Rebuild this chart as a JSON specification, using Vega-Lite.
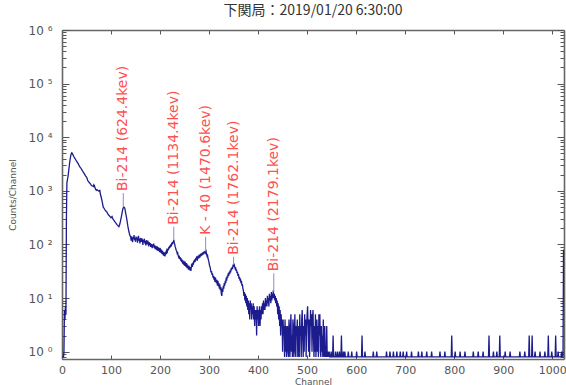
{
  "$schema": "https://vega.github.io/schema/vega-lite/v6.json",
  "width": 502,
  "height": 329,
  "autosize": "none",
  "padding": {"left": 62, "top": 30, "right": 2, "bottom": 26},
  "background": "white",
  "title": {"text": "下関局：2019/01/20 6:30:00", "font": "Noto Sans CJK JP", "fontSize": 14, "fontWeight": "normal", "color": "#333", "anchor": "middle", "offset": 6},
  "config": {
    "view": {"stroke": null},
    "axis": {"labelFont": "DejaVu Sans", "labelColor": "#555", "labelFontSize": 11, "domainColor": "#666", "domainWidth": 1.6, "tickColor": "#555", "tickWidth": 1, "grid": false, "titleFont": "DejaVu Sans", "titleFontSize": 9, "titleFontWeight": "normal", "titleColor": "#555"}
  },
  "datasets": {
    "spec": [
      {"ch":0,"c":0.8},{"ch":1,"c":0.8},{"ch":2,"c":0.8},{"ch":3,"c":0.8},{"ch":4,"c":1},{"ch":5,"c":6},{"ch":6,"c":4},{"ch":7,"c":7},{"ch":8,"c":5},{"ch":9,"c":300},
      {"ch":10,"c":1413},{"ch":11,"c":1600},{"ch":12,"c":1778},{"ch":13,"c":2100},{"ch":14,"c":2512},{"ch":15,"c":3000},{"ch":16,"c":3548},{"ch":17,"c":4100},{"ch":18,"c":4571},{"ch":19,"c":4950},
      {"ch":20,"c":5129},{"ch":21,"c":5000},{"ch":22,"c":4786},{"ch":24,"c":4365},{"ch":26,"c":4074},{"ch":28,"c":3802},{"ch":30,"c":3548},{"ch":32,"c":3311},{"ch":34,"c":3090},{"ch":36,"c":2818},
      {"ch":38,"c":2692},{"ch":40,"c":2512},{"ch":42,"c":2344},{"ch":44,"c":2188},{"ch":46,"c":2042},{"ch":48,"c":1905},{"ch":50,"c":1800},{"ch":51,"c":1740},{"ch":52,"c":1585},{"ch":54,"c":1479},
      {"ch":56,"c":1413},{"ch":58,"c":1349},{"ch":60,"c":1259},{"ch":62,"c":1230},{"ch":64,"c":1202},{"ch":65,"c":1300},{"ch":66,"c":1259},{"ch":68,"c":1096},{"ch":70,"c":1023},{"ch":72,"c":1047},
      {"ch":74,"c":1000},{"ch":76,"c":977},{"ch":77,"c":1040},{"ch":78,"c":891},{"ch":80,"c":759},{"ch":82,"c":631},{"ch":84,"c":501},{"ch":86,"c":468},{"ch":88,"c":437},{"ch":90,"c":417},
      {"ch":92,"c":398},{"ch":94,"c":363},{"ch":96,"c":347},{"ch":98,"c":331},{"ch":100,"c":316},{"ch":102,"c":331},{"ch":104,"c":295},{"ch":106,"c":282},{"ch":108,"c":263},{"ch":110,"c":251},
      {"ch":112,"c":234},{"ch":114,"c":224},{"ch":116,"c":214},{"ch":118,"c":240},{"ch":120,"c":295},{"ch":122,"c":363},{"ch":124,"c":457},{"ch":126,"c":501},{"ch":128,"c":479},{"ch":130,"c":380},
      {"ch":132,"c":302},{"ch":134,"c":229},{"ch":136,"c":182},{"ch":138,"c":151},
      {"ch":140,"c":138},{"ch":141,"c":118},{"ch":142,"c":142},{"ch":143,"c":125},{"ch":144,"c":110},{"ch":145,"c":136},{"ch":146,"c":128},{"ch":147,"c":150},{"ch":148,"c":120},{"ch":149,"c":131},
      {"ch":150,"c":112},{"ch":151,"c":140},{"ch":152,"c":124},{"ch":153,"c":135},{"ch":154,"c":108},{"ch":155,"c":128},{"ch":156,"c":145},{"ch":157,"c":118},{"ch":158,"c":126},{"ch":159,"c":104},
      {"ch":160,"c":132},{"ch":161,"c":120},{"ch":162,"c":112},{"ch":163,"c":130},{"ch":164,"c":118},{"ch":165,"c":98},{"ch":166,"c":122},{"ch":167,"c":110},{"ch":168,"c":128},{"ch":169,"c":104},
      {"ch":170,"c":115},{"ch":171,"c":96},{"ch":172,"c":120},{"ch":173,"c":108},{"ch":174,"c":100},{"ch":175,"c":118},{"ch":176,"c":104},{"ch":177,"c":92},{"ch":178,"c":110},{"ch":179,"c":98},
      {"ch":180,"c":106},{"ch":181,"c":90},{"ch":182,"c":102},{"ch":183,"c":95},{"ch":184,"c":85},{"ch":185,"c":100},{"ch":186,"c":92},{"ch":187,"c":104},{"ch":188,"c":86},{"ch":189,"c":96},
      {"ch":190,"c":82},{"ch":191,"c":94},{"ch":192,"c":88},{"ch":193,"c":78},{"ch":194,"c":92},{"ch":195,"c":84},{"ch":196,"c":76},{"ch":197,"c":88},{"ch":198,"c":80},{"ch":199,"c":72},
      {"ch":200,"c":86},{"ch":201,"c":78},{"ch":202,"c":70},{"ch":203,"c":80},{"ch":204,"c":66},{"ch":205,"c":76},{"ch":206,"c":70},{"ch":207,"c":62},{"ch":208,"c":72},{"ch":209,"c":64},
      {"ch":210,"c":60},{"ch":211,"c":68},{"ch":212,"c":72},{"ch":213,"c":66},{"ch":214,"c":78},{"ch":215,"c":74},{"ch":216,"c":84},{"ch":217,"c":78},{"ch":218,"c":90},{"ch":219,"c":84},
      {"ch":220,"c":95},{"ch":221,"c":88},{"ch":222,"c":100},{"ch":223,"c":92},{"ch":224,"c":108},{"ch":225,"c":100},{"ch":226,"c":112},{"ch":227,"c":105},{"ch":228,"c":122},{"ch":229,"c":108},
      {"ch":230,"c":100},{"ch":231,"c":90},{"ch":232,"c":84},{"ch":233,"c":78},{"ch":234,"c":74},{"ch":235,"c":68},{"ch":236,"c":70},{"ch":237,"c":62},{"ch":238,"c":58},{"ch":239,"c":62},
      {"ch":240,"c":54},{"ch":241,"c":58},{"ch":242,"c":50},{"ch":243,"c":55},{"ch":244,"c":47},{"ch":245,"c":52},{"ch":246,"c":44},{"ch":247,"c":50},{"ch":248,"c":42},{"ch":249,"c":48},
      {"ch":250,"c":40},{"ch":251,"c":46},{"ch":252,"c":44},{"ch":253,"c":38},{"ch":254,"c":45},{"ch":255,"c":36},{"ch":256,"c":42},{"ch":257,"c":38},{"ch":258,"c":34},{"ch":259,"c":40},
      {"ch":260,"c":36},{"ch":261,"c":33},{"ch":262,"c":38},{"ch":263,"c":32},{"ch":264,"c":40},{"ch":265,"c":44},{"ch":266,"c":38},{"ch":267,"c":46},{"ch":268,"c":42},{"ch":269,"c":50},
      {"ch":270,"c":46},{"ch":271,"c":53},{"ch":272,"c":48},{"ch":273,"c":56},{"ch":274,"c":52},{"ch":275,"c":60},{"ch":276,"c":50},{"ch":277,"c":58},{"ch":278,"c":62},{"ch":279,"c":55},
      {"ch":280,"c":64},{"ch":281,"c":57},{"ch":282,"c":66},{"ch":283,"c":60},{"ch":284,"c":68},{"ch":285,"c":62},{"ch":286,"c":70},{"ch":287,"c":64},{"ch":288,"c":72},{"ch":289,"c":66},
      {"ch":290,"c":74},{"ch":291,"c":68},{"ch":292,"c":76},{"ch":293,"c":70},{"ch":294,"c":74},{"ch":295,"c":66},{"ch":296,"c":60},{"ch":297,"c":62},{"ch":298,"c":54},{"ch":299,"c":50},
      {"ch":300,"c":46},{"ch":301,"c":40},{"ch":302,"c":38},{"ch":303,"c":34},{"ch":304,"c":30},{"ch":305,"c":32},{"ch":306,"c":27},{"ch":307,"c":29},{"ch":308,"c":24},{"ch":309,"c":26},
      {"ch":310,"c":22},{"ch":311,"c":25},{"ch":312,"c":20},{"ch":313,"c":24},{"ch":314,"c":21},{"ch":315,"c":19},{"ch":316,"c":22},{"ch":317,"c":17},{"ch":318,"c":21},{"ch":319,"c":18},
      {"ch":320,"c":19},{"ch":321,"c":15},{"ch":322,"c":18},{"ch":323,"c":14},{"ch":324,"c":16},{"ch":325,"c":12},{"ch":326,"c":11},{"ch":327,"c":15},{"ch":328,"c":13},{"ch":329,"c":17},
      {"ch":330,"c":15},{"ch":331,"c":19},{"ch":332,"c":17},{"ch":333,"c":21},{"ch":334,"c":19},{"ch":335,"c":24},{"ch":336,"c":21},{"ch":337,"c":26},{"ch":338,"c":24},{"ch":339,"c":29},
      {"ch":340,"c":26},{"ch":341,"c":31},{"ch":342,"c":28},{"ch":343,"c":33},{"ch":344,"c":30},{"ch":345,"c":36},{"ch":346,"c":33},{"ch":347,"c":38},{"ch":348,"c":35},{"ch":349,"c":42},
      {"ch":350,"c":38},{"ch":351,"c":44},{"ch":352,"c":39},{"ch":353,"c":36},{"ch":354,"c":38},{"ch":355,"c":32},{"ch":356,"c":34},{"ch":357,"c":29},{"ch":358,"c":31},{"ch":359,"c":26},
      {"ch":360,"c":28},{"ch":361,"c":23},{"ch":362,"c":25},{"ch":363,"c":21},{"ch":364,"c":23},{"ch":365,"c":19},{"ch":366,"c":21},{"ch":367,"c":17},{"ch":368,"c":18},{"ch":369,"c":15},
      {"ch":370,"c":14},{"ch":371,"c":11},{"ch":372,"c":13},{"ch":373,"c":9},{"ch":374,"c":12},{"ch":375,"c":8},{"ch":376,"c":11},{"ch":377,"c":7},{"ch":378,"c":10},{"ch":379,"c":6},
      {"ch":380,"c":9},{"ch":381,"c":5},{"ch":382,"c":8},{"ch":383,"c":4},{"ch":384,"c":9},{"ch":385,"c":6},{"ch":386,"c":8},{"ch":387,"c":4},{"ch":388,"c":7},{"ch":389,"c":5},
      {"ch":390,"c":8},{"ch":391,"c":4},{"ch":392,"c":7},{"ch":393,"c":3},{"ch":394,"c":6},{"ch":395,"c":4},{"ch":396,"c":6},{"ch":397,"c":2},{"ch":398,"c":7},{"ch":399,"c":4},
      {"ch":400,"c":6},{"ch":401,"c":3},{"ch":402,"c":5},{"ch":403,"c":7},{"ch":404,"c":3},{"ch":405,"c":6},{"ch":406,"c":4},{"ch":407,"c":7},{"ch":408,"c":5},{"ch":409,"c":8},
      {"ch":410,"c":5},{"ch":411,"c":9},{"ch":412,"c":6},{"ch":413,"c":8},{"ch":414,"c":6},{"ch":415,"c":10},{"ch":416,"c":7},{"ch":417,"c":9},{"ch":418,"c":7},{"ch":419,"c":11},
      {"ch":420,"c":8},{"ch":421,"c":10},{"ch":422,"c":7},{"ch":423,"c":12},{"ch":424,"c":9},{"ch":425,"c":11},{"ch":426,"c":8},{"ch":427,"c":13},{"ch":428,"c":9},{"ch":429,"c":12},
      {"ch":430,"c":10},{"ch":431,"c":14},{"ch":432,"c":10},{"ch":433,"c":12},{"ch":434,"c":9},{"ch":435,"c":11},{"ch":436,"c":8},{"ch":437,"c":10},{"ch":438,"c":7},{"ch":439,"c":9},
      {"ch":440,"c":5},{"ch":441,"c":8},{"ch":442,"c":4},{"ch":443,"c":7},{"ch":444,"c":3},{"ch":445,"c":6},{"ch":446,"c":2},{"ch":447,"c":5},{"ch":448,"c":3},{"ch":449,"c":4},
      {"ch":450,"c":1},{"ch":451,"c":4},{"ch":452,"c":2},{"ch":453,"c":3},{"ch":454,"c":0.8},{"ch":455,"c":4},{"ch":456,"c":1},{"ch":457,"c":3},{"ch":458,"c":0.8},{"ch":459,"c":2},
      {"ch":460,"c":3},{"ch":461,"c":1},{"ch":462,"c":0.8},{"ch":463,"c":4},{"ch":464,"c":2},{"ch":465,"c":0.8},{"ch":466,"c":3},{"ch":467,"c":5},{"ch":468,"c":1},{"ch":469,"c":2},
      {"ch":470,"c":0.8},{"ch":471,"c":4},{"ch":472,"c":3},{"ch":473,"c":0.8},{"ch":474,"c":2},{"ch":475,"c":5},{"ch":476,"c":1},{"ch":477,"c":0.8},{"ch":478,"c":3},{"ch":479,"c":2},
      {"ch":480,"c":4},{"ch":481,"c":0.8},{"ch":482,"c":1},{"ch":483,"c":3},{"ch":484,"c":0.8},{"ch":485,"c":5},{"ch":486,"c":2},{"ch":487,"c":3},{"ch":488,"c":0.8},{"ch":489,"c":4},
      {"ch":490,"c":6},{"ch":491,"c":2},{"ch":492,"c":0.8},{"ch":493,"c":3},{"ch":494,"c":1},{"ch":495,"c":5},{"ch":496,"c":2},{"ch":497,"c":4},{"ch":498,"c":0.8},{"ch":499,"c":3},
      {"ch":500,"c":5},{"ch":501,"c":7},{"ch":502,"c":3},{"ch":503,"c":1},{"ch":504,"c":4},{"ch":505,"c":0.8},{"ch":506,"c":2},{"ch":507,"c":6},{"ch":508,"c":3},{"ch":509,"c":5},
      {"ch":510,"c":1},{"ch":511,"c":4},{"ch":512,"c":6},{"ch":513,"c":2},{"ch":514,"c":0.8},{"ch":515,"c":3},{"ch":516,"c":1},{"ch":517,"c":5},{"ch":518,"c":0.8},{"ch":519,"c":2},
      {"ch":520,"c":4},{"ch":521,"c":1},{"ch":522,"c":3},{"ch":523,"c":0.8},{"ch":524,"c":5},{"ch":525,"c":2},{"ch":526,"c":5},{"ch":527,"c":1},{"ch":528,"c":0.8},{"ch":529,"c":3},
      {"ch":530,"c":1},{"ch":531,"c":2},{"ch":532,"c":0.8},{"ch":533,"c":4},{"ch":534,"c":1},{"ch":535,"c":0.8},{"ch":536,"c":3},{"ch":537,"c":0.8},{"ch":538,"c":1},{"ch":539,"c":0.8},
      {"ch":540,"c":3},{"ch":541,"c":0.8},{"ch":542,"c":1},{"ch":543,"c":0.8},{"ch":545,"c":1},{"ch":546,"c":0.8},
      {"ch":548,"c":0.8},{"ch":549,"c":1},{"ch":550,"c":0.8},{"ch":552,"c":0.8},{"ch":553,"c":2},{"ch":554,"c":0.8},{"ch":557,"c":0.8},{"ch":558,"c":1},{"ch":559,"c":0.8},
      {"ch":561,"c":0.8},{"ch":562,"c":1},{"ch":563,"c":0.8},{"ch":565,"c":0.8},{"ch":566,"c":1},{"ch":567,"c":0.8},{"ch":569,"c":0.8},{"ch":570,"c":2},{"ch":571,"c":0.8},
      {"ch":573,"c":0.8},{"ch":574,"c":1},{"ch":575,"c":0.8},{"ch":576,"c":0.8},{"ch":577,"c":1},{"ch":578,"c":0.8},{"ch":583,"c":0.8},{"ch":584,"c":1},{"ch":585,"c":0.8},
      {"ch":590,"c":0.8},{"ch":591,"c":1},{"ch":592,"c":0.8},{"ch":600,"c":0.8},{"ch":601,"c":1},{"ch":602,"c":0.8},{"ch":611,"c":0.8},{"ch":612,"c":2},{"ch":613,"c":0.8},
      {"ch":617,"c":0.8},{"ch":618,"c":1},{"ch":619,"c":0.8},{"ch":634,"c":0.8},{"ch":635,"c":1},{"ch":636,"c":0.8},{"ch":641,"c":0.8},{"ch":642,"c":1},{"ch":643,"c":0.8},
      {"ch":661,"c":0.8},{"ch":662,"c":1},{"ch":663,"c":0.8},{"ch":668,"c":0.8},{"ch":669,"c":1},{"ch":670,"c":0.8},{"ch":675,"c":0.8},{"ch":676,"c":1},{"ch":677,"c":0.8},
      {"ch":682,"c":0.8},{"ch":683,"c":1},{"ch":684,"c":0.8},{"ch":689,"c":0.8},{"ch":690,"c":1},{"ch":691,"c":0.8},{"ch":695,"c":0.8},{"ch":696,"c":1},{"ch":697,"c":0.8},
      {"ch":702,"c":0.8},{"ch":703,"c":1},{"ch":704,"c":0.8},{"ch":712,"c":0.8},{"ch":713,"c":1},{"ch":714,"c":0.8},{"ch":726,"c":0.8},{"ch":727,"c":1},{"ch":728,"c":0.8},
      {"ch":733,"c":0.8},{"ch":734,"c":1},{"ch":735,"c":0.8},{"ch":743,"c":0.8},{"ch":744,"c":1},{"ch":745,"c":0.8},{"ch":753,"c":0.8},{"ch":754,"c":1},{"ch":755,"c":0.8},
      {"ch":770,"c":0.8},{"ch":771,"c":1},{"ch":772,"c":0.8},{"ch":780,"c":0.8},{"ch":781,"c":1},{"ch":782,"c":0.8},{"ch":794,"c":0.8},{"ch":795,"c":2},{"ch":796,"c":0.8},
      {"ch":801,"c":0.8},{"ch":802,"c":1},{"ch":803,"c":0.8},{"ch":811,"c":0.8},{"ch":812,"c":1},{"ch":813,"c":0.8},{"ch":821,"c":0.8},{"ch":822,"c":1},{"ch":823,"c":0.8},
      {"ch":838,"c":0.8},{"ch":839,"c":1},{"ch":840,"c":0.8},{"ch":848,"c":0.8},{"ch":849,"c":1},{"ch":850,"c":0.8},{"ch":858,"c":0.8},{"ch":859,"c":1},{"ch":860,"c":0.8},
      {"ch":870,"c":0.8},{"ch":871,"c":2},{"ch":872,"c":0.8},{"ch":879,"c":0.8},{"ch":880,"c":1},{"ch":881,"c":0.8},{"ch":886,"c":0.8},{"ch":887,"c":1},{"ch":888,"c":0.8},
      {"ch":892,"c":0.8},{"ch":893,"c":2},{"ch":894,"c":0.8},{"ch":903,"c":0.8},{"ch":904,"c":1},{"ch":905,"c":0.8},{"ch":913,"c":0.8},{"ch":914,"c":1},{"ch":915,"c":0.8},
      {"ch":933,"c":0.8},{"ch":934,"c":1},{"ch":935,"c":0.8},{"ch":943,"c":0.8},{"ch":944,"c":1},{"ch":945,"c":0.8},{"ch":952,"c":0.8},{"ch":953,"c":2},{"ch":954,"c":0.8},
      {"ch":958,"c":0.8},{"ch":959,"c":2},{"ch":960,"c":0.8},{"ch":964,"c":0.8},{"ch":965,"c":1},{"ch":966,"c":0.8},{"ch":974,"c":0.8},{"ch":975,"c":1},{"ch":976,"c":0.8},
      {"ch":984,"c":0.8},{"ch":985,"c":1},{"ch":986,"c":0.8},{"ch":991,"c":0.8},{"ch":992,"c":2},{"ch":993,"c":0.8},{"ch":998,"c":0.8},{"ch":999,"c":1},{"ch":1000,"c":0.8},
      {"ch":1006,"c":0.8},{"ch":1007,"c":2},{"ch":1008,"c":0.8},{"ch":1011,"c":0.8},{"ch":1012,"c":1},{"ch":1013,"c":0.8},{"ch":1018,"c":0.8},{"ch":1019,"c":1},{"ch":1020,"c":0.8},
      {"ch":1022,"c":0.8},{"ch":1023,"c":80}
    ],
    "peaks": [
      {"ch":125,"top":910,"peak":500,"label":"Bi-214 (624.4kev)"},
      {"ch":228,"top":214,"peak":120,"label":"Bi-214 (1134.4kev)"},
      {"ch":293,"top":139,"peak":74,"label":"K - 40 (1470.6kev)"},
      {"ch":350,"top":59,"peak":42,"label":"Bi-214 (1762.1kev)"},
      {"ch":432,"top":29,"peak":13,"label":"Bi-214 (2179.1kev)"}
    ]
  },
  "resolve": {"axis": {"x": "independent", "y": "independent"}},
  "layer": [
    {
      "data": {"name": "spec"},
      "mark": {"type": "line", "color": "#1c1c8e", "strokeWidth": 1.3, "clip": true},
      "encoding": {
        "x": {"field": "ch", "type": "quantitative", "scale": {"domain": [0, 1024], "nice": false, "zero": false},
          "axis": {"orient": "bottom", "values": [0,100,200,300,400,500,600,700,800,900,1000], "format": "d", "tickSize": -4, "labelPadding": 9, "title": "Channel", "titlePadding": 2, "labelFlush": false, "labelOverlap": false}},
        "y": {"field": "c", "type": "quantitative", "scale": {"type": "log", "domain": [0.73, 1000000], "nice": false},
          "axis": {"orient": "left",
            "values": [0.8,0.9,1,2,3,4,5,6,7,8,9,10,20,30,40,50,60,70,80,90,100,200,300,400,500,600,700,800,900,1000,2000,3000,4000,5000,6000,7000,8000,9000,10000,20000,30000,40000,50000,60000,70000,80000,90000,100000,200000,300000,400000,500000,600000,700000,800000,900000,1000000],
            "tickSize": {"condition": {"test": "abs(log(datum.value)/LN10 - round(log(datum.value)/LN10)) < 0.001", "value": -7}, "value": -4},
            "labelExpr": "abs(log(datum.value)/LN10 - round(log(datum.value)/LN10)) < 0.001 ? '10 ' + ['⁰','¹','²','³','⁴','⁵','⁶'][round(log(datum.value)/LN10)] : ''",
            "labelPadding": 17, "labelOverlap": false, "labelFontSize": 12,
            "title": "Counts/Channel", "titlePadding": 11}}
      }
    },
    {
      "data": {"name": "peaks"},
      "mark": {"type": "rule", "color": "#8b8bd8", "strokeWidth": 1},
      "encoding": {
        "x": {"field": "ch", "type": "quantitative",
          "axis": {"orient": "top", "values": [0,100,200,300,400,500,600,700,800,900,1000], "tickSize": -4, "labels": false, "title": null}},
        "y": {"field": "top", "type": "quantitative",
          "axis": {"orient": "right",
            "values": [0.8,0.9,1,2,3,4,5,6,7,8,9,10,20,30,40,50,60,70,80,90,100,200,300,400,500,600,700,800,900,1000,2000,3000,4000,5000,6000,7000,8000,9000,10000,20000,30000,40000,50000,60000,70000,80000,90000,100000,200000,300000,400000,500000,600000,700000,800000,900000,1000000],
            "tickSize": {"condition": {"test": "abs(log(datum.value)/LN10 - round(log(datum.value)/LN10)) < 0.001", "value": -7}, "value": -4},
            "labels": false, "title": null}},
        "y2": {"field": "peak"}
      }
    },
    {
      "data": {"name": "peaks"},
      "mark": {"type": "text", "color": "#ff5050", "angle": 270, "align": "left", "baseline": "middle", "dx": 2, "font": "DejaVu Sans", "fontSize": 14},
      "encoding": {
        "x": {"field": "ch", "type": "quantitative", "axis": null},
        "y": {"field": "top", "type": "quantitative", "axis": null},
        "text": {"field": "label"}
      }
    }
  ]
}
